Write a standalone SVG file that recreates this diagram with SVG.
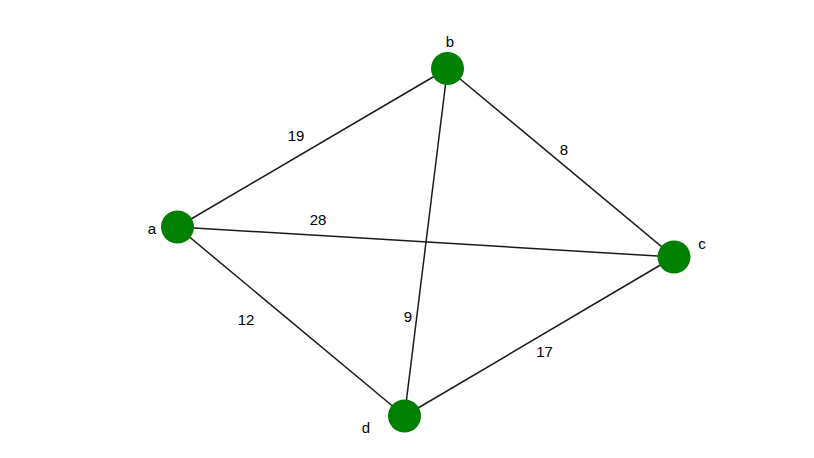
<svg xmlns="http://www.w3.org/2000/svg" width="814" height="458" viewBox="0 0 814 458">
<style>
.edge{stroke:#1a1a1a;stroke-width:1.5;fill:none}
.node{fill:#008000}
text{font-family:"Liberation Sans",Arial,sans-serif;font-size:15px;fill:#000;text-anchor:middle}
</style>
<rect width="814" height="458" fill="#fff"/>
<g id="edges">
<line class="edge" x1="177.5" y1="227" x2="447.5" y2="68.5"/>
<line class="edge" x1="177.5" y1="227" x2="674" y2="257"/>
<line class="edge" x1="177.5" y1="227" x2="404.5" y2="416"/>
<line class="edge" x1="447.5" y1="68.5" x2="674" y2="257"/>
<line class="edge" x1="447.5" y1="68.5" x2="404.5" y2="416"/>
<line class="edge" x1="674" y1="257" x2="404.5" y2="416"/>
<text x="296" y="141">19</text>
<text x="318" y="225">28</text>
<text x="564" y="155">8</text>
<text x="246" y="325">12</text>
<text x="408" y="321.5">9</text>
<text x="544.5" y="357">17</text>
</g>
<g id="a"><circle class="node" cx="177.5" cy="227" r="16.5"/><text x="152" y="234">a</text></g>
<g id="b"><circle class="node" cx="447.5" cy="68.5" r="16.5"/><text x="450" y="46.5">b</text></g>
<g id="c"><circle class="node" cx="674" cy="257" r="16.5"/><text x="702" y="249">c</text></g>
<g id="d"><circle class="node" cx="404.5" cy="416" r="16.5"/><text x="366" y="433">d</text></g>
</svg>
